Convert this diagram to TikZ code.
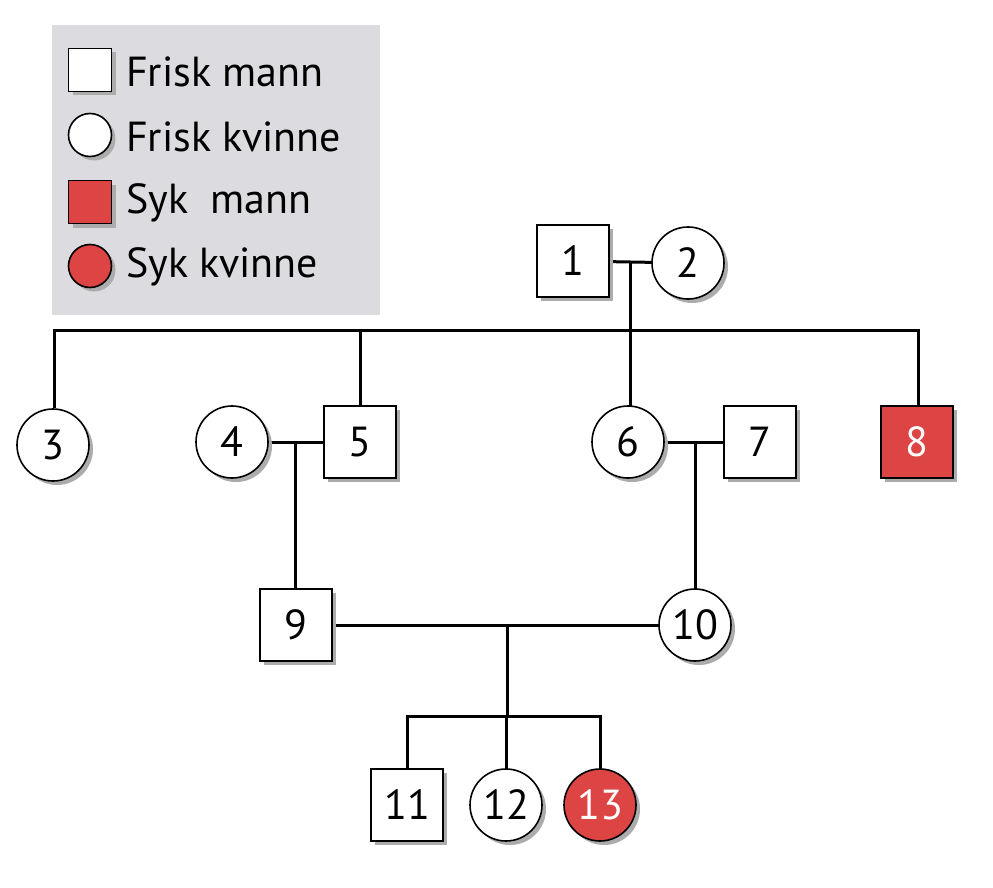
\documentclass[tikz,border=0pt]{standalone}
\usepackage{fontspec}
\setmainfont{PT Sans}
\definecolor{sick}{HTML}{DD4444}
\definecolor{legbg}{HTML}{DCDCE0}
\begin{document}
\begin{tikzpicture}[x=1pt,y=-1pt,
  base/.style={draw=black,line width=1.6pt,inner sep=0pt,font=\fontsize{42}{42}\selectfont,
     preaction={fill=gray!65,draw=none,transform canvas={xshift=4pt,yshift=-4pt}}},
  man/.style={base,rectangle,minimum size=72pt,fill=white},
  woman/.style={base,circle,minimum size=72pt,fill=white},
  sman/.style={man,fill=sick,text=white},
  swoman/.style={woman,fill=sick,text=white},
  lman/.style={man,minimum size=43pt},
  lwoman/.style={woman,minimum size=43pt},
  lsman/.style={sman,minimum size=43pt},
  lswoman/.style={swoman,minimum size=43pt},
  ltxt/.style={anchor=west,inner sep=0pt,font=\fontsize{42}{42}\selectfont},
  ln/.style={line width=3pt}]
\useasboundingbox (0,0) rectangle (993,888);
\fill[white] (0,0) rectangle (993,888);
\fill[legbg] (52,25) rectangle (380,315);

\coordinate (m12) at (630,263);
\coordinate (s1) at (630,330);
\coordinate (sL) at (54,330);
\coordinate (sR) at (918,330);
\coordinate (m45) at (295,442);
\coordinate (m67) at (695,442);
\coordinate (m910) at (507,625);
\coordinate (s3) at (507,716);
\coordinate (n1c) at (573,261);
\coordinate (n2c) at (688,263);

\draw[ln] (n1c) -- (n2c);
\draw[ln] (m12) -- (s1);
\draw[ln] (54,408) -- (sL) -- (sR) -- (918,408);
\draw[ln] (360,330) -- (360,408);
\draw[ln] (630,330) -- (630,408);
\draw[ln] (232,442) -- (360,442);
\draw[ln] (628,442) -- (760,442);
\draw[ln] (m45) -- (295,590);
\draw[ln] (m67) -- (695,590);
\draw[ln] (296,625) -- (695,625);
\draw[ln] (m910) -- (s3);
\draw[ln] (407,770) -- (407,716) -- (600,716) -- (600,770);
\draw[ln] (506,716) -- (506,770);

\node[lman] (lm) at (90,70) {};
\node[lwoman] (lw) at (90,135) {};
\node[lsman] (lsm) at (90,202) {};
\node[lswoman] (lsw) at (90,266) {};
\node[ltxt] (t1) at (126,72) {Frisk mann};
\node[ltxt] (t2) at (126,137) {Frisk kvinne};
\node[ltxt] (t3) at (126,203) {Syk\ \ mann};
\node[ltxt] (t4) at (126,267) {Syk kvinne};

\node[man] (n1) at (573,261) {1};
\node[woman] (n2) at (688,263) {2};
\node[woman] (n3) at (53,445) {3};
\node[woman] (n4) at (232,442) {4};
\node[man] (n5) at (360,442) {5};
\node[woman] (n6) at (628,442) {6};
\node[man] (n7) at (760,442) {7};
\node[sman] (n8) at (917,442) {8};
\node[man] (n9) at (296,625) {9};
\node[woman] (n10) at (695,625) {10};
\node[man] (n11) at (407,805) {11};
\node[woman] (n12) at (506,805) {12};
\node[swoman] (n13) at (600,805) {13};
\end{tikzpicture}
\end{document}
